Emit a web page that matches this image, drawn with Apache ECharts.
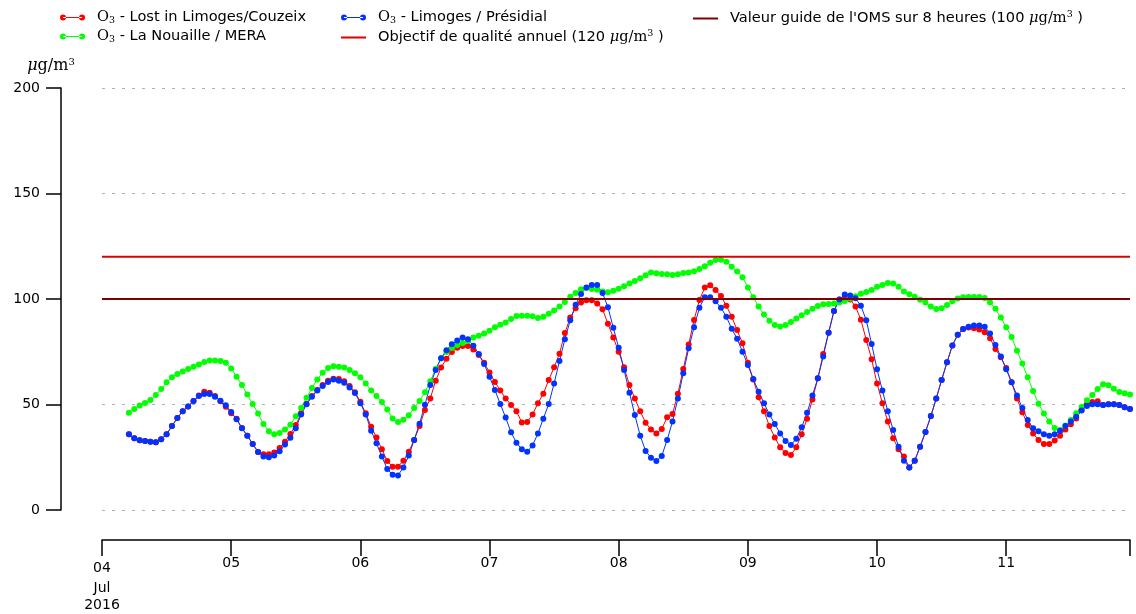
<!DOCTYPE html>
<html>
<head>
<meta charset="utf-8">
<script src="https://cdn.jsdelivr.net/npm/echarts@6/dist/echarts.min.js"></script>
<style>
html,body{margin:0;padding:0;background:#fff;}
#chart{width:1136px;height:614px;}
</style>
</head>
<body>
<div id="chart"></div>
<script>
// Hours counted from 04 Jul 2016 00:00; hourly data starting at 05:00
const firstHour = 5;
const lastHour = 191;
const dayLabels = ['04\nJul\n2016', '05', '06', '07', '08', '09', '10', '11'];

const couzeix = [
  35.9, 34.0, 33.0, 32.7, 32.4, 32.1, 33.5, 35.9, 39.8, 43.6, 46.8, 49.1, 51.7, 54.3, 56.1, 55.6, 54.0, 51.5, 48.9,
  45.8, 43.3, 38.9, 35.2, 31.3, 27.5, 26.4, 26.4, 27.3, 29.4, 32.4, 36.0, 40.3, 45.8, 50.2, 54.0, 56.9, 59.2, 61.3, 62.2, 62.1, 61.0, 58.8, 55.8,
  51.3, 45.8, 39.5, 34.4, 28.8, 23.2, 20.5, 20.5, 23.4, 27.6, 33.2, 39.8, 47.4, 52.9, 61.3, 67.5, 71.7, 74.9, 76.9, 77.7, 77.7, 76.1, 73.5, 69.8,
  65.2, 60.7, 56.6, 52.9, 49.8, 46.8, 41.5, 41.7, 45.3, 50.6, 55.1, 61.6, 67.6, 74.1, 83.9, 91.2, 95.6, 98.3, 99.4, 99.4, 97.9, 95.1, 88.3, 81.7,
  75.0, 67.6, 59.2, 52.9, 46.8, 41.4, 38.2, 36.3, 38.4, 43.9, 45.5, 55.1, 66.8, 78.4, 90.0, 99.5, 105.4, 106.5, 104.3, 101.4, 96.8, 91.6, 85.3, 79.0,
  69.8, 61.9, 53.4, 46.8, 39.8, 34.4, 29.7, 27.0, 26.1, 29.7, 35.9, 43.3, 52.4, 62.4, 73.9, 84.0, 94.3, 99.8, 100.6, 99.8, 96.4, 90.2, 80.6, 71.4,
  60.0, 50.6, 41.9, 34.0, 28.8, 25.3, 20.2, 23.4, 30.0, 37.0, 44.5, 52.9, 61.6, 70.0, 78.0, 83.1, 85.8, 86.5, 86.1, 85.6, 84.2, 81.4, 76.3, 72.4,
  67.3, 60.5, 52.8, 46.3, 40.3, 36.3, 33.2, 31.3, 31.3, 32.9, 35.2, 38.2, 40.6, 43.4, 47.4, 50.2, 51.2, 51.5, 49.8, 50.1, 50.1, 49.8, 48.7, 47.9
];

const nouaille = [
  46.1, 47.9, 49.5, 50.7, 52.1, 54.5, 57.3, 60.5, 62.9, 64.5, 65.6, 66.8, 67.9, 68.9, 70.1, 70.8, 70.8, 70.6, 69.8,
  67.1, 63.2, 59.2, 54.7, 50.2, 45.7, 40.8, 37.3, 35.9, 36.5, 38.2, 40.4, 44.4, 48.3, 53.2, 57.8, 61.9, 65.1, 67.3, 68.1, 67.9, 67.5, 66.4, 64.8,
  62.9, 60.0, 56.6, 54.0, 51.2, 47.6, 43.4, 41.7, 42.8, 44.9, 48.3, 51.7, 55.8, 61.0, 67.0, 71.9, 74.9, 76.8, 78.2, 79.1, 80.1, 81.7, 82.6, 83.6,
  85.0, 86.6, 87.8, 88.9, 90.5, 91.9, 92.1, 92.1, 91.8, 91.0, 91.6, 93.0, 94.6, 96.5, 98.6, 101.1, 102.8, 104.6, 105.2, 104.7, 104.4, 103.6, 103.2, 103.9,
  104.9, 106.0, 107.3, 108.5, 109.8, 111.2, 112.6, 112.2, 111.8, 111.7, 111.4, 111.7, 112.3, 112.6, 113.1, 114.2, 115.5, 117.2, 118.5, 118.6, 117.7, 115.3, 113.0, 110.3,
  105.5, 100.8, 96.5, 92.6, 89.7, 87.7, 87.0, 87.7, 89.1, 90.7, 92.3, 93.8, 95.4, 96.7, 97.5, 97.6, 97.9, 98.4, 99.1, 100.2, 101.3, 102.5, 103.3, 104.3,
  105.8, 106.6, 107.6, 107.4, 105.8, 103.6, 102.2, 101.1, 99.7, 98.3, 96.5, 95.3, 95.6, 97.2, 98.9, 100.2, 100.8, 100.9, 100.9, 100.9, 100.5, 98.4, 95.4, 91.2,
  86.6, 82.0, 75.5, 69.4, 62.9, 56.4, 50.4, 45.7, 41.9, 38.9, 37.9, 40.0, 42.7, 45.8, 48.8, 52.0, 54.5, 57.3, 59.6, 59.1, 57.5, 55.9, 55.3, 54.7
];

const presidial = [
  35.9, 34.0, 33.0, 32.7, 32.4, 32.1, 33.5, 35.9, 39.8, 43.6, 46.8, 49.1, 51.7, 54.0, 55.0, 55.0, 53.7, 51.8, 49.6,
  46.4, 43.0, 38.7, 35.2, 31.3, 27.5, 25.4, 25.0, 25.8, 27.8, 31.0, 34.3, 38.7, 45.3, 50.1, 53.7, 56.6, 58.8, 60.7, 61.8, 61.3, 60.3, 58.1, 55.5,
  50.6, 45.3, 37.6, 31.6, 25.3, 19.4, 16.7, 16.4, 20.2, 25.8, 33.2, 40.9, 49.9, 59.2, 66.4, 71.9, 75.7, 78.5, 80.3, 81.7, 80.9, 77.9, 73.9, 69.2,
  63.2, 56.9, 50.2, 43.8, 36.8, 31.9, 28.8, 27.6, 30.6, 36.3, 43.3, 50.2, 60.0, 70.6, 80.9, 89.9, 97.3, 102.4, 105.5, 106.6, 106.6, 102.8, 96.1, 86.4,
  76.9, 66.4, 55.6, 45.0, 35.2, 28.0, 24.8, 23.2, 25.6, 33.2, 41.9, 52.9, 64.8, 76.6, 86.6, 95.9, 100.8, 100.8, 98.9, 95.9, 91.6, 85.9, 81.2, 75.0,
  68.7, 62.1, 56.1, 50.6, 45.3, 40.8, 36.3, 32.7, 30.8, 33.8, 39.2, 46.1, 54.3, 62.4, 72.8, 84.0, 94.3, 99.8, 102.1, 101.7, 100.3, 96.8, 89.9, 78.7,
  66.7, 56.6, 46.8, 37.9, 30.0, 23.4, 20.2, 23.4, 30.0, 37.0, 44.5, 52.9, 61.6, 70.0, 78.0, 83.1, 85.8, 86.9, 87.5, 87.4, 86.9, 83.7, 78.2, 72.7,
  66.7, 60.5, 54.3, 48.3, 42.7, 38.7, 37.3, 35.9, 35.2, 35.9, 37.6, 39.8, 41.9, 44.2, 47.2, 49.3, 50.1, 50.1, 49.8, 50.1, 50.1, 49.8, 48.7, 47.9
];

const objectifAnnuel = 120;
const valeurOMS = 100;
const yTicks = [0, 50, 100, 150, 200];

const NAME_RED = 'O3 - Lost in Limoges/Couzeix';
const NAME_GREEN = 'O3 - La Nouaille / MERA';
const NAME_BLUE = 'O3 - Limoges / Présidial';
const NAME_OBJ = 'Objectif de qualité annuel (120 µg/m3 )';
const NAME_OMS = "Valeur guide de l'OMS sur 8 heures (100 µg/m3 )";

const legendFormat = {
  [NAME_RED]: '{o|O}{s|3}{t| - Lost in Limoges/Couzeix}',
  [NAME_GREEN]: '{o|O}{s|3}{t| - La Nouaille / MERA}',
  [NAME_BLUE]: '{o|O}{s|3}{t| - Limoges / Présidial}',
  [NAME_OBJ]: '{f|Objectif de qualité annuel (120 }{m|μ}{u|g/m}{p|3}{t| )}',
  [NAME_OMS]: "{f|Valeur guide de l'OMS sur 8 heures (100 }{m|μ}{u|g/m}{p|3}{t| )}"
};

function toPairs(arr) { return arr.map((v, i) => [firstHour + i, v]); }

const dotLine = 'path://M0,3a3,3 0 1,0 6,0a3,3 0 1,0 -6,0zM3,2.5h19v1h-19zM19,3a3,3 0 1,0 6,0a3,3 0 1,0 -6,0z';
const barLine = 'path://M0,0h0.01v0.01h-0.01zM0,2h25v2h-25zM24.99,5.99h0.01v0.01h-0.01z';

const FS = 14.6;
const richText = {
  t: { fontFamily: 'DejaVu Sans', fontSize: FS, color: '#000' },
  f: { fontFamily: 'DejaVu Sans', fontSize: FS, color: '#000', padding: [0, 0, 0, 7] },
  o: { fontFamily: 'DejaVu Serif', fontSize: FS, color: '#000', padding: [0, 0, 0, 7] },
  s: { fontFamily: 'DejaVu Serif', fontSize: 9.5, color: '#000', padding: [7, 0, 0, 0] },
  m: { fontFamily: 'DejaVu Serif', fontStyle: 'italic', fontSize: FS, color: '#000' },
  u: { fontFamily: 'DejaVu Serif', fontSize: FS, color: '#000' },
  p: { fontFamily: 'DejaVu Serif', fontSize: 9.5, color: '#000', padding: [0, 0, 7, 0] }
};

function legendCfg(left, items) {
  return {
    orient: 'vertical', left: left, top: 10, padding: 0, itemGap: 3,
    itemWidth: 25, itemHeight: 6,
    data: items,
    formatter: n => legendFormat[n],
    textStyle: { fontFamily: 'DejaVu Sans', fontSize: FS, color: '#000', rich: richText }
  };
}

function o3Series(name, color, data) {
  return {
    name: name, type: 'line', data: toPairs(data),
    symbol: 'circle', symbolSize: 6, showSymbol: true,
    color: color,
    lineStyle: { color: color, width: 1 },
    itemStyle: { color: color },
    emphasis: { disabled: true },
    animation: false, z: 2
  };
}

function hSeries(name, color, value) {
  return {
    name: name, type: 'line', data: [[0, value], [lastHour, value]],
    symbol: 'none', color: color,
    lineStyle: { color: color, width: 2 },
    emphasis: { disabled: true }, animation: false, z: 3
  };
}

const chart = echarts.init(document.getElementById('chart'), null, { renderer: 'canvas' });
chart.setOption({
  animation: false,
  backgroundColor: '#fff',
  legend: [
    legendCfg(60, [{ name: NAME_RED, icon: dotLine }, { name: NAME_GREEN, icon: dotLine }]),
    legendCfg(341, [{ name: NAME_BLUE, icon: dotLine }, { name: NAME_OBJ, icon: barLine }]),
    legendCfg(693, [{ name: NAME_OMS, icon: barLine }])
  ],
  grid: { left: 102, right: 6, top: 88, bottom: 104 },
  xAxis: {
    type: 'value', min: 0, max: lastHour, interval: 24, offset: 30,
    axisLine: { show: true, onZero: false, lineStyle: { color: '#000', width: 1.5 } },
    axisTick: { show: true, inside: false, length: 16, lineStyle: { color: '#000', width: 1.5 } },
    splitLine: { show: false },
    axisLabel: {
      margin: 16, color: '#000', fontFamily: 'DejaVu Sans', fontSize: 14, lineHeight: 14,
      showMaxLabel: true,
      formatter: v => {
        if (v % 24 !== 0) return '';
        const lab = dayLabels[v / 24];
        if (lab.indexOf('\n') >= 0) {
          const parts = lab.split('\n');
          return '{a|' + parts[0] + '}\n{b|' + parts[1] + '}\n{b|' + parts[2] + '}';
        }
        return lab;
      },
      rich: {
        a: { fontFamily: 'DejaVu Sans', fontSize: 14, color: '#000', lineHeight: 24 },
        b: { fontFamily: 'DejaVu Sans', fontSize: 14, color: '#000', lineHeight: 17 }
      }
    }
  },
  yAxis: {
    type: 'value', min: yTicks[0], max: yTicks[yTicks.length - 1], interval: 50, offset: 41,
    name: '{m|μ}{u|g/m}{p|3}', nameLocation: 'end', nameGap: 13,
    nameTextStyle: { align: 'center', padding: [0, 20, 0, 0], rich: {
      m: { fontFamily: 'DejaVu Serif', fontStyle: 'italic', fontSize: 16, color: '#000' },
      u: { fontFamily: 'DejaVu Serif', fontSize: 16, color: '#000' },
      p: { fontFamily: 'DejaVu Serif', fontSize: 10, color: '#000', padding: [0, 0, 8, 0] }
    } },
    axisLine: { show: true, onZero: false, lineStyle: { color: '#000', width: 1.5 } },
    axisTick: { show: true, inside: false, length: 15, lineStyle: { color: '#000', width: 1.5 } },
    axisLabel: { margin: 21, color: '#000', fontFamily: 'DejaVu Sans', fontSize: 14 },
    splitLine: { show: true, lineStyle: { color: '#b0b0b0', width: 1, type: [3, 7] } }
  },
  series: [
    o3Series(NAME_RED, '#ff0000', couzeix),
    o3Series(NAME_GREEN, '#00ff00', nouaille),
    o3Series(NAME_BLUE, '#0033ff', presidial),
    hSeries(NAME_OBJ, '#dd0000', objectifAnnuel),
    hSeries(NAME_OMS, '#800000', valeurOMS)
  ]
});
</script>
</body>
</html>
